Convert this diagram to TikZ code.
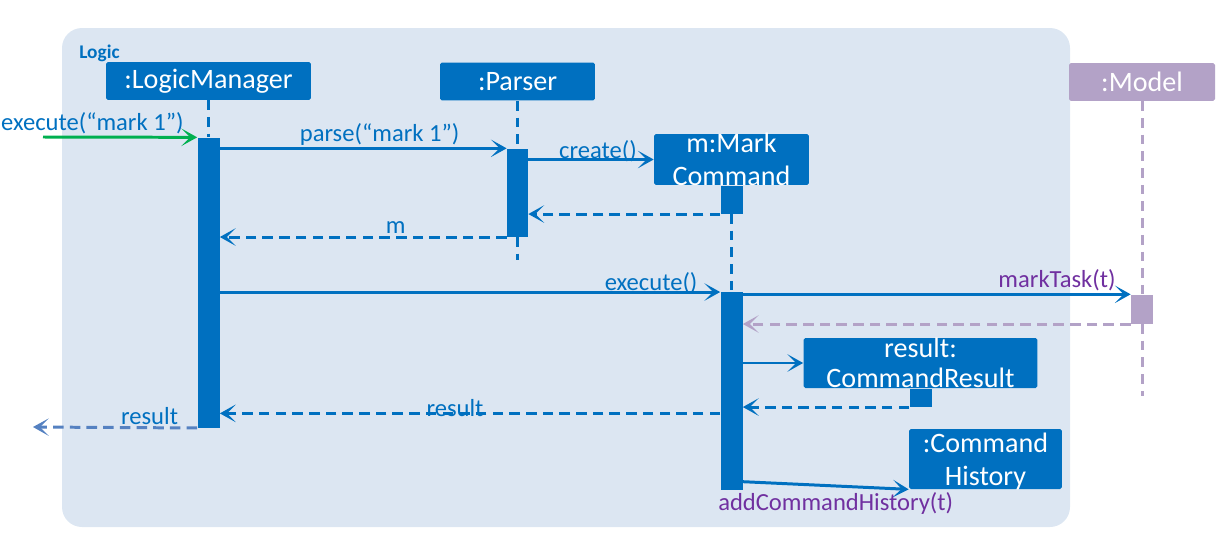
\documentclass[tikz,border=0pt]{standalone}
\usepackage{fontspec}
\setmainfont{Carlito}
\usetikzlibrary{arrows.meta, positioning, calc}
\definecolor{umlblue}{HTML}{0070C0}
\definecolor{logicbg}{HTML}{DCE6F2}
\definecolor{modelpurple}{HTML}{B3A2C7}
\definecolor{msgpurple}{HTML}{7030A0}
\definecolor{entrygreen}{HTML}{00B050}
\definecolor{backblue}{HTML}{5581C1}

\begin{document}
\begin{tikzpicture}[
        x=0.02cm, y=-0.02cm, % one unit = one pixel of the sketch
        obj/.style={rectangle, fill=umlblue, rounded corners=1pt, text=white, font=\fontsize{16}{18.5}\selectfont, align=center, inner sep=0pt, minimum height=0.76cm},
        objtext/.style={text=white, font=\fontsize{16}{18.7}\selectfont, align=center, inner sep=0pt},
        act/.style={rectangle, fill=umlblue, inner sep=0pt, minimum width=0.44cm},
        lifeline/.style={umlblue, line width=1.7pt, dash pattern=on 5.5pt off 4pt},
        call/.style={-{Stealth[length=9pt, width=10pt, inset=5pt]}, umlblue, line width=1.7pt},
        reply/.style={call, dash pattern=on 6pt off 3.5pt}, % dashed return
        msg/.style={font=\fontsize{14}{16}\selectfont, text=umlblue, inner sep=1pt}
    ]
    \useasboundingbox (0,0) rectangle (1220,534);

    % Logic component frame
    \fill[logicbg, rounded corners=0.4cm] (62,28) rectangle (1070,527);
    \node[font=\bfseries\fontsize{11}{13}\selectfont, text=umlblue, anchor=base west, inner sep=0pt] (logic_lbl) at (79,58) {Logic};

    % Objects - top row
    \node[obj, minimum width=4.1cm] (logic_mgr) at (208.5,81) {:LogicManager};
    \node[obj, minimum width=3.1cm] (parser) at (517.5,81.5) {:Parser};
    \node[obj, minimum width=2.92cm, fill=modelpurple] (model) at (1142,82) {:Model};

    % Objects created on the way
    \node[obj, minimum width=3.1cm, minimum height=1.02cm] (mark_cmd) at (731.5,159.5) {};
    \node[objtext] (mark_cmd_txt) at (mark_cmd) {m:Mark\\Command};
    \node[obj, minimum width=4.68cm, minimum height=1.0cm] (cmd_result) at (920.5,363) {};
    \node[objtext, font=\fontsize{16}{17}\selectfont] (cmd_result_txt) at (cmd_result) {result:\\CommandResult};
    \node[obj, minimum width=3.06cm, minimum height=1.2cm] (cmd_history) at (985.5,459) {};
    \node[objtext, yshift=-1.5pt] (cmd_history_txt) at (cmd_history) {:Command\\History};

    % Activation bars
    \node[act, minimum height=5.8cm, below=0.74cm of logic_mgr] (lm_act) {};
    \node[act, minimum width=0.42cm, minimum height=1.76cm, below=0.95cm of parser] (parser_act) {};
    \node[act, minimum height=0.56cm, below=0cm of mark_cmd] (mark_act1) {};
    \node[act, minimum height=3.96cm, below=1.56cm of mark_act1] (mark_act2) {};
    \node[act, fill=modelpurple, minimum height=0.58cm, below=3.86cm of model] (model_act) {};
    \node[act, minimum height=0.36cm, below=0cm of cmd_result] (result_act) {};

    % Lifelines
    \draw[lifeline] (logic_mgr.south) -- (lm_act.north);
    \draw[lifeline] (parser.south) -- (parser_act.north);
    \draw[lifeline] (parser_act.south) -- ++(0,23);
    \draw[lifeline] (mark_act1.south) -- (mark_act2.north);
    \draw[lifeline, modelpurple] (model.south) -- (model_act.north);
    \draw[lifeline, modelpurple] (model_act.south) -- ++(0,72);

    % Free ends
    \coordinate (entry) at (43,137);
    \coordinate (exit) at (33,427);
    \coordinate (res_back) at ($(mark_act2.west)+(0,22)$);

    % Messages
    \draw[call, entrygreen] (entry) -- node[msg, above, pos=0.32] {execute(“mark 1”)} (lm_act.north west);
    \draw[call] (lm_act.east |- parser_act.north) -- node[msg, above, pos=0.557] {parse(“mark 1”)} (parser_act.north west);
    \draw[call] (parser_act.east |- mark_cmd.west) -- node[msg, above, pos=0.556, yshift=-3pt] {create()} (mark_cmd.west);
    \draw[reply] (mark_act1.south west) -- (parser_act.east |- mark_act1.south);
    \draw[reply] (parser_act.south west) -- node[msg, above, pos=0.387] {m} (lm_act.east |- parser_act.south);
    \draw[call] (lm_act.east |- mark_act2.north) -- node[msg, above, pos=0.862, yshift=-3pt] {execute()} (mark_act2.north west);
    \draw[call] (mark_act2.east |- model_act.north) -- node[msg, above, pos=0.81, text=msgpurple] {markTask(t)} (model_act.north west);
    \draw[reply, modelpurple] (model_act.south west) -- (mark_act2.east |- model_act.south);
    \draw[call] (mark_act2.east |- cmd_result.west) -- (cmd_result.west);
    \draw[reply] (result_act.south west) -- (mark_act2.east |- result_act.south);
    \draw[reply] (res_back) -- node[msg, above, pos=0.53, yshift=-4pt] {result} (lm_act.east |- res_back);
    \draw[reply, backblue] (lm_act.south west) -- node[msg, above, pos=0.29] {result} (exit);
    \draw[call] ($(mark_act2.south east)+(0,-9)$) -- node[msg, below, pos=0.56, yshift=-2pt, text=msgpurple] {addCommandHistory(t)} (cmd_history.south west);

\end{tikzpicture}
\end{document}
